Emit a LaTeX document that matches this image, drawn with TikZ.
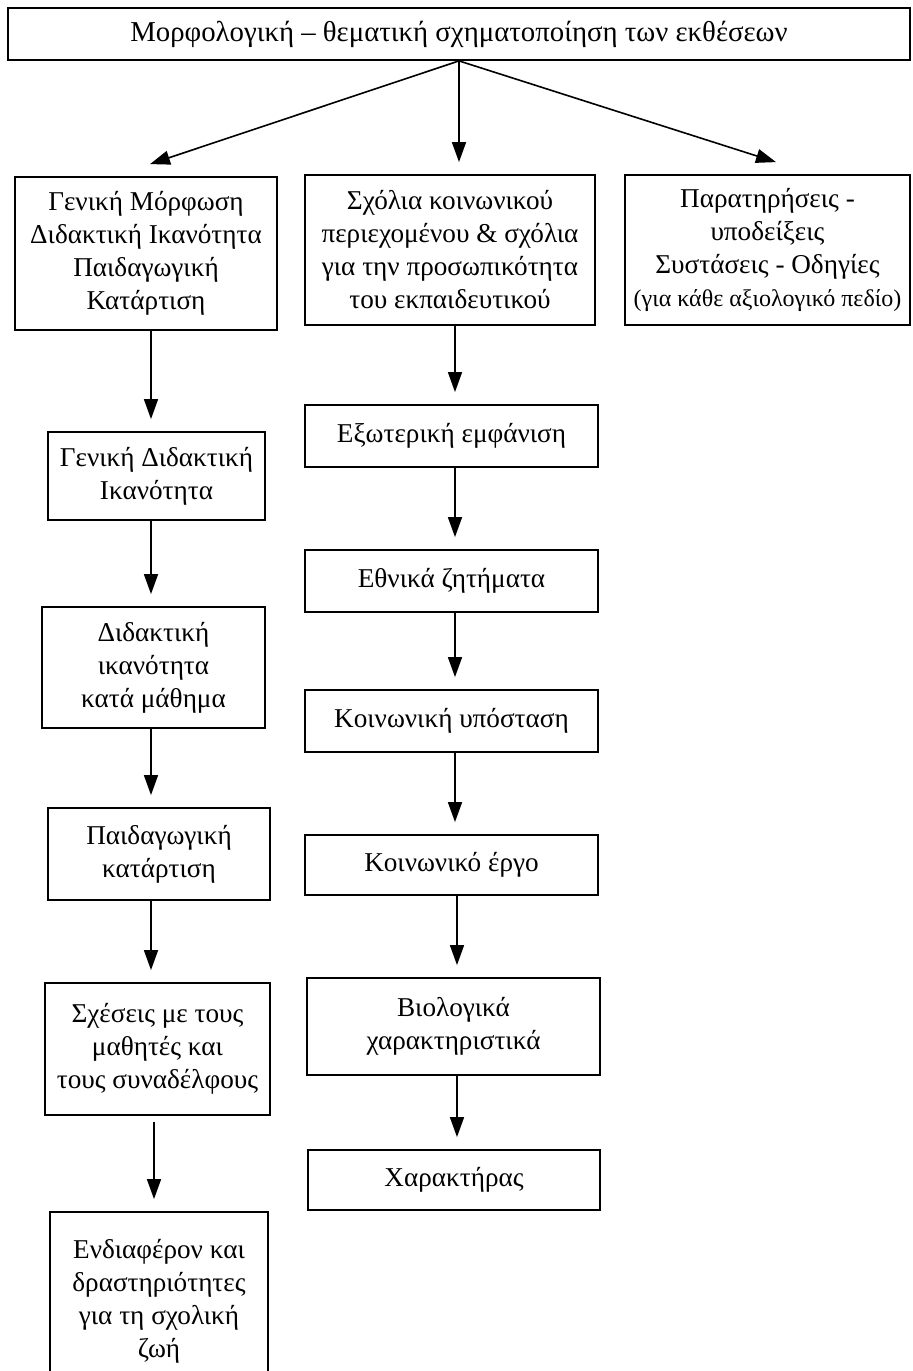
\documentclass[tikz,border=0pt]{standalone}
\usepackage{fontspec}
\setmainfont{Liberation Serif}
\usetikzlibrary{arrows.meta}
\begin{document}
\begin{tikzpicture}[x=0.5pt,y=-0.5pt,
  box/.style={draw, line width=0.9pt, align=center, inner sep=0pt, font=\fontsize{13.6}{16.5}\selectfont},
  arr/.style={-{Triangle[length=10pt,width=7pt]}, line width=0.8pt, shorten >=6pt}]
\clip (0,0) rectangle (912,1371);
\fill[white] (0,0) rectangle (912,1371);
% top
\node[box, minimum width=451pt, minimum height=26pt, font=\fontsize{14.4}{16.5}\selectfont] (top) at (459,34) {Μορφολογική – θεματική σχηματοποίηση των εκθέσεων};
% row 1
\node[box, minimum width=131pt, minimum height=76.5pt] (L1) at (146,253.5) {Γενική Μόρφωση\\Διδακτική Ικανότητα\\Παιδαγωγική\\Κατάρτιση};
\node[box, minimum width=145pt, minimum height=75pt] (M1) at (450,250) {Σχόλια κοινωνικού\\περιεχομένου \& σχόλια\\για την προσωπικότητα\\του εκπαιδευτικού};
\node[box, minimum width=142.5pt, minimum height=75pt] (R1) at (767.5,250) {Παρατηρήσεις -\\υποδείξεις\\Συστάσεις - Οδηγίες\\{\fontsize{12}{13}\selectfont(για κάθε αξιολογικό πεδίο)}};
% left column
\node[box, minimum width=108.5pt, minimum height=44pt] (L2) at (156.5,476) {Γενική Διδακτική\\Ικανότητα};
\node[box, minimum width=111.5pt, minimum height=60.5pt] (L3) at (153.5,667.5) {Διδακτική\\ικανότητα\\κατά μάθημα};
\node[box, minimum width=111pt, minimum height=46pt] (L4) at (159,854) {Παιδαγωγική\\κατάρτιση};
\node[box, minimum width=112.5pt, minimum height=66pt] (L5) at (157.5,1049) {Σχέσεις με τους\\μαθητές και\\τους συναδέλφους};
\node[box, minimum width=109pt, minimum height=89pt] (L6) at (159,1301) {Ενδιαφέρον και\\δραστηριότητες\\για τη σχολική\\ζωή};
% middle column
\node[box, minimum width=146.5pt, minimum height=31pt] (M2) at (451.5,436) {Εξωτερική εμφάνιση};
\node[box, minimum width=146.5pt, minimum height=31pt] (M3) at (451.5,581) {Εθνικά ζητήματα};
\node[box, minimum width=146.5pt, minimum height=31pt] (M4) at (451.5,721) {Κοινωνική υπόσταση};
\node[box, minimum width=146.5pt, minimum height=30pt] (M5) at (451.5,865) {Κοινωνικό έργο};
\node[box, minimum width=146.5pt, minimum height=48.5pt] (M6) at (453.5,1026.5) {Βιολογικά\\χαρακτηριστικά};
\node[box, minimum width=146pt, minimum height=30pt] (M7) at (454,1180) {Χαρακτήρας};
% arrows from top
\draw[arr, shorten >=0pt] (top.south) -- ([xshift=2pt,yshift=6pt]L1.north);
\draw[arr] (top.south) -- (top.south |- M1.north);
\draw[arr, shorten >=0pt] (top.south) -- ([xshift=4.25pt,yshift=6pt]R1.north);
% left arrows
\coordinate (lx) at (151,0);
\draw[arr] (L1.south -| lx) -- (L2.north -| lx);
\draw[arr] (L2.south -| lx) -- (L3.north -| lx);
\draw[arr] (L3.south -| lx) -- (L4.north -| lx);
\draw[arr] (L4.south -| lx) -- (L5.north -| lx);
\coordinate (lx2) at (154,0);
\draw[arr] ([yshift=-3pt]L5.south -| lx2) -- (L6.north -| lx2);
% middle arrows
\coordinate (mx) at (455,0);
\draw[arr] (M1.south -| mx) -- (M2.north -| mx);
\draw[arr] (M2.south -| mx) -- (M3.north -| mx);
\draw[arr] (M3.south -| mx) -- (M4.north -| mx);
\draw[arr] (M4.south -| mx) -- (M5.north -| mx);
\coordinate (mx2) at (457,0);
\draw[arr] (M5.south -| mx2) -- (M6.north -| mx2);
\draw[arr] (M6.south -| mx2) -- (M7.north -| mx2);
\end{tikzpicture}
\end{document}
